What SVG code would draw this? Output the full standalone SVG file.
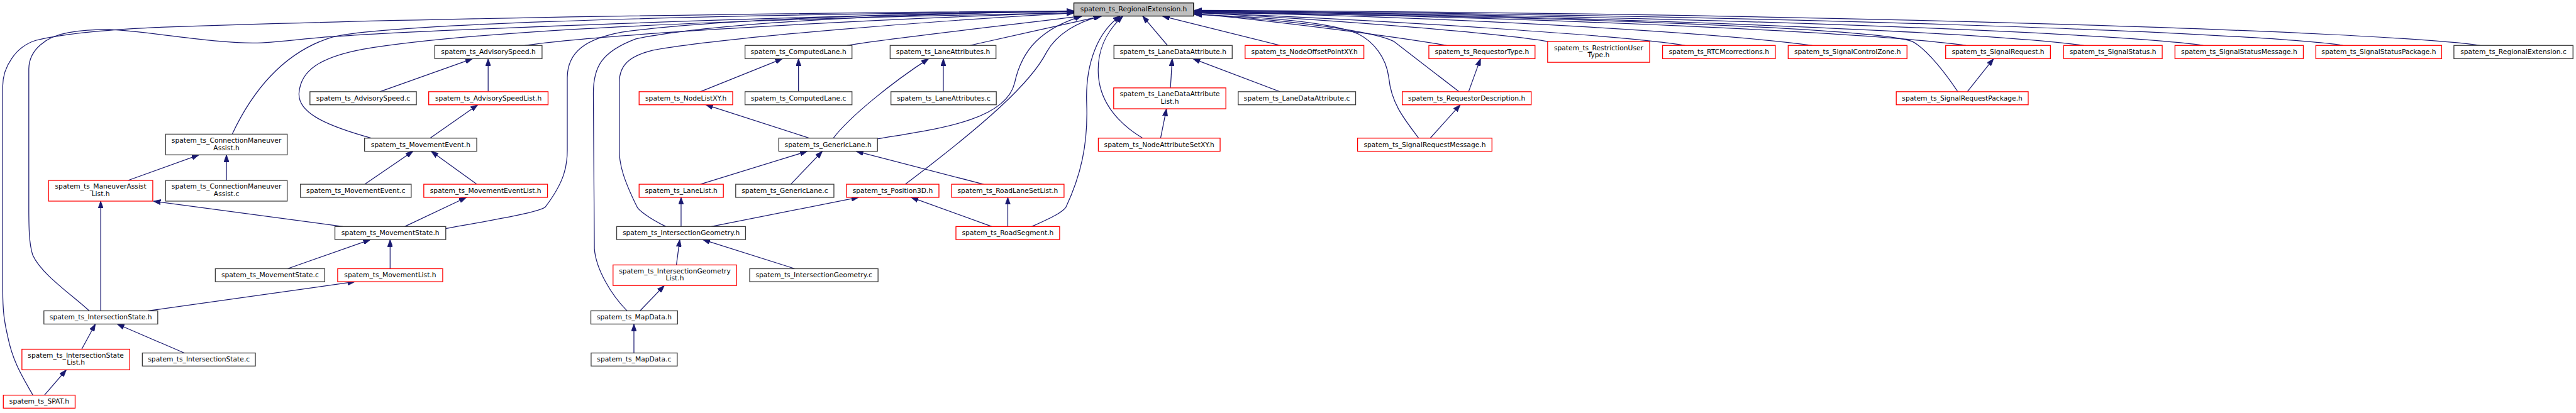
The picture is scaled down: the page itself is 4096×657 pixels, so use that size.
<svg xmlns="http://www.w3.org/2000/svg" width="4096" height="657" viewBox="0 0 4096 657">
<style>
.nd rect{fill:#fff;stroke:#3c3c3c;stroke-width:1.6}
.nd.r rect{stroke:#ff0000}
.nd.g rect{fill:#bfbfbf;stroke:#000}
.nd text{font-family:"DejaVu Sans","Liberation Sans",Arial,sans-serif;font-size:13px;fill:#000;text-anchor:middle}
.ed path{fill:none;stroke:#191970;stroke-width:1.5;marker-end:url(#ah)}
</style>
<defs>
<marker id="ah" markerUnits="userSpaceOnUse" viewBox="0 0 14 10" markerWidth="14" markerHeight="10" refX="14" refY="5" orient="auto">
<path d="M0,0 L14,5 L0,10 z" fill="#191970" stroke="#191970" stroke-width="1"/>
</marker>
</defs>
<rect width="4096" height="657" fill="#fff"/>
<g transform="scale(0.82398)">
<g id="edges" class="ed">
<path d="M942,177 L942,113.3"/>
<path d="M733,177 L912,113.3"/>
<path d="M830,266.7 L922,202.3"/>
<path d="M704,355.7 L797,292"/>
<path d="M920,355.7 L832,292"/>
<path d="M247,348.3 L384,299"/>
<path d="M437,348.3 L437,299"/>
<path d="M661.6,437.4 L296,388.5"/>
<path d="M781,437.4 L900,381"/>
<path d="M194.3,600.1 L194.3,388.3"/>
<path d="M554.7,518.8 L715,462.5"/>
<path d="M752.8,518.8 L752.8,462.5"/>
<path d="M285.8,600.1 L685,543.9"/>
<path d="M157.7,674.2 L184,625.6"/>
<path d="M355.7,681.5 L226,625.6"/>
<path d="M85.7,762.9 L128,713.9"/>
<path d="M1351.4,177 L1510,113.3"/>
<path d="M1540.9,177 L1540.9,113.3"/>
<path d="M1562,266.7 L1362,202.3"/>
<path d="M1351.4,355.7 L1558,292"/>
<path d="M1526,355.7 L1587,292"/>
<path d="M1898,355.7 L1652,292"/>
<path d="M1608,266.7 C1640,225 1720,160 1792,113.3"/>
<path d="M1820.4,177 L1820.4,113.3"/>
<path d="M1314.3,437.4 L1314.3,381"/>
<path d="M1372.6,437.4 L1657,381"/>
<path d="M1914,437.4 L1758,381"/>
<path d="M1944.8,437.4 L1944.8,381"/>
<path d="M1305.3,511.5 L1311.7,462.5"/>
<path d="M1534,518.8 L1356,462.5"/>
<path d="M1235,600.1 L1282,551.2"/>
<path d="M1223.3,681.5 L1223.3,625.6"/>
<path d="M2258.7,169.7 L2262,113.3"/>
<path d="M2469.9,177 L2302,113.3"/>
<path d="M2239.6,266.7 L2251,210"/>
<path d="M2834,177 L2857,113.3"/>
<path d="M2760,266.7 L2818,202.3"/>
<path d="M3796.4,177 L3847,113.3"/>
<path d="M1634.6,87.7 C1700,76 1950,48 2086,31"/>
<path d="M1871.7,87.7 C1950,70 2050,48 2126,31"/>
<path d="M1693.3,268 C1800,250 1940,235 1958,160 C1972,95 2010,55 2088,31"/>
<path d="M1747,355.7 C1900,240 1990,160 2020,100 C2040,65 2080,42 2124,31"/>
<path d="M1990.8,437.4 C2030,420 2050,410 2057,400 C2085,340 2100,280 2097,200 C2094,120 2120,60 2162,31"/>
<path d="M2205,266.7 C2160,240 2125,200 2120,150 C2115,100 2135,60 2167,31"/>
<path d="M2252.9,87.7 L2205,31"/>
<path d="M2469.9,87.7 L2243,31"/>
<path d="M1012.6,87.7 C1150,68 1600,40 2072,24"/>
<path d="M448,259 C490,170 550,100 640,72 C720,50 1200,30 2072,22"/>
<path d="M717,266.7 C620,240 575,215 577,180 C580,135 620,110 700,95 C850,70 1200,40 2072,25"/>
<path d="M860.2,441.3 C950,425 1040,410 1052,400 C1090,350 1094.7,320 1094.7,290 L1094.7,150 C1095,100 1130,75 1200,62 C1400,35 1800,25 2072,22"/>
<path d="M1210,600 C1180,570 1150,520 1147,480 L1145,180 C1145,130 1160,100 1227,75 C1400,40 1800,25 2072,22"/>
<path d="M1285,437.4 C1250,420 1232,405 1229.6,400 C1205,350 1195,320 1195,290 L1195,160 C1195,125 1215,108 1260,97 C1400,72 1800,40 2072,25"/>
<path d="M172,600 C140,570 80,530 63,492 C56,470 55.6,440 55.6,400 L55.6,133 C56,95 90,70 132,63 C160,58 190,57 211,57 C300,62 420,85 497,83 C560,80 600,72 656,70 C750,62 1500,30 2072,22"/>
<path d="M63.5,763 C45,730 25,700 15,650 C8,620 5.3,600 5.3,560 L5.3,166 C5.3,130 30,90 69,78 C120,65 200,58 300,53 C800,35 1500,25 2072,21"/>
<path d="M2791.7,87.7 C2700,72 2500,45 2305,26"/>
<path d="M2987.6,80.3 C2900,65 2600,40 2305,24"/>
<path d="M3252,87.7 C3150,70 2700,40 2305,24"/>
<path d="M3497.3,87.7 C3350,68 2900,35 2305,23"/>
<path d="M3793.8,87.7 C3650,68 3100,35 2305,23"/>
<path d="M4021.4,87.7 C3850,65 3200,32 2305,22"/>
<path d="M4252,87.7 C4100,65 3300,30 2305,22"/>
<path d="M4521.8,87.7 C4350,62 3400,28 2305,21"/>
<path d="M4786.2,87.7 C4600,60 3500,25 2305,20"/>
<path d="M2737.7,266.7 C2710,230 2685,200 2680,150 C2675,110 2650,80 2620,65 C2560,40 2420,32 2305,28"/>
<path d="M2815.5,177 L2690,80 C2650,60 2500,40 2305,27"/>
<path d="M3778,177 C3760,150 3720,95 3690,80 C3620,55 3000,30 2305,25"/>
</g>
<g id="n_RE" class="nd g"><rect x="2072.3" y="5.7" width="230.9" height="25.3"/><text x="2187.7" y="22.4">spatem_ts_RegionalExtension.h</text></g>
<g id="n_AdvisorySpeed_h" class="nd"><rect x="839" y="87.7" width="207" height="25.6"/><text x="942.5" y="104.6">spatem_ts_AdvisorySpeed.h</text></g>
<g id="n_ComputedLane_h" class="nd"><rect x="1437.7" y="87.7" width="206.4" height="25.6"/><text x="1540.9" y="104.6">spatem_ts_ComputedLane.h</text></g>
<g id="n_LaneAttributes_h" class="nd"><rect x="1717.7" y="87.7" width="204.3" height="25.6"/><text x="1819.9" y="104.6">spatem_ts_LaneAttributes.h</text></g>
<g id="n_LaneDataAttribute_h" class="nd"><rect x="2149.6" y="87.7" width="228.2" height="25.6"/><text x="2263.7" y="104.6">spatem_ts_LaneDataAttribute.h</text></g>
<g id="n_NodeOffsetPointXY_h" class="nd r"><rect x="2402.7" y="87.7" width="229.2" height="25.6"/><text x="2517.3" y="104.6">spatem_ts_NodeOffsetPointXY.h</text></g>
<g id="n_RequestorType_h" class="nd r"><rect x="2757.3" y="87.7" width="204.9" height="25.6"/><text x="2859.8" y="104.6">spatem_ts_RequestorType.h</text></g>
<g id="n_RestrictionUserType_h" class="nd r"><rect x="2986.5" y="80.3" width="196.9" height="40"/><text x="3085" y="96.5">spatem_ts_RestrictionUser</text><text x="3085" y="110.8">Type.h</text></g>
<g id="n_RTCMcorrections_h" class="nd r"><rect x="3208.3" y="87.7" width="217.6" height="25.6"/><text x="3317.1" y="104.6">spatem_ts_RTCMcorrections.h</text></g>
<g id="n_SignalControlZone_h" class="nd r"><rect x="3450.7" y="87.7" width="229.3" height="25.6"/><text x="3565.4" y="104.6">spatem_ts_SignalControlZone.h</text></g>
<g id="n_SignalRequest_h" class="nd r"><rect x="3754.6" y="87.7" width="202.2" height="25.6"/><text x="3855.7" y="104.6">spatem_ts_SignalRequest.h</text></g>
<g id="n_SignalStatus_h" class="nd r"><rect x="3982.2" y="87.7" width="190.3" height="25.6"/><text x="4077.4" y="104.6">spatem_ts_SignalStatus.h</text></g>
<g id="n_SignalStatusMessage_h" class="nd r"><rect x="4197.1" y="87.7" width="247.7" height="25.6"/><text x="4321" y="104.6">spatem_ts_SignalStatusMessage.h</text></g>
<g id="n_SignalStatusPackage_h" class="nd r"><rect x="4468.9" y="87.7" width="242.9" height="25.6"/><text x="4590.4" y="104.6">spatem_ts_SignalStatusPackage.h</text></g>
<g id="n_RegionalExtension_c" class="nd"><rect x="4735.4" y="87.7" width="229.8" height="25.6"/><text x="4850.3" y="104.6">spatem_ts_RegionalExtension.c</text></g>
<g id="n_AdvisorySpeed_c" class="nd"><rect x="598.1" y="177" width="205.4" height="25.3"/><text x="700.8" y="193.8">spatem_ts_AdvisorySpeed.c</text></g>
<g id="n_AdvisorySpeedList_h" class="nd r"><rect x="827.3" y="177" width="230.3" height="25.3"/><text x="942.5" y="193.8">spatem_ts_AdvisorySpeedList.h</text></g>
<g id="n_NodeListXY_h" class="nd r"><rect x="1233.3" y="177" width="180.6" height="25.3"/><text x="1323.6" y="193.8">spatem_ts_NodeListXY.h</text></g>
<g id="n_ComputedLane_c" class="nd"><rect x="1437.7" y="177" width="206.4" height="25.3"/><text x="1540.9" y="193.8">spatem_ts_ComputedLane.c</text></g>
<g id="n_LaneAttributes_c" class="nd"><rect x="1719.3" y="177" width="203.3" height="25.3"/><text x="1821" y="193.8">spatem_ts_LaneAttributes.c</text></g>
<g id="n_LaneDataAttributeList_h" class="nd r"><rect x="2149.1" y="169.7" width="216.5" height="40.3"/><text x="2257.4" y="186">spatem_ts_LaneDataAttribute</text><text x="2257.4" y="200.3">List.h</text></g>
<g id="n_LaneDataAttribute_c" class="nd"><rect x="2389.4" y="177" width="226.6" height="25.3"/><text x="2502.7" y="193.8">spatem_ts_LaneDataAttribute.c</text></g>
<g id="n_RequestorDescription_h" class="nd r"><rect x="2706" y="177" width="248.8" height="25.3"/><text x="2830.4" y="193.8">spatem_ts_RequestorDescription.h</text></g>
<g id="n_SignalRequestPackage_h" class="nd r"><rect x="3659.3" y="177" width="254.6" height="25.3"/><text x="3786.6" y="193.8">spatem_ts_SignalRequestPackage.h</text></g>
<g id="n_ConnectionManeuverAssist_h" class="nd"><rect x="319.7" y="259" width="234.5" height="40"/><text x="437" y="275.2">spatem_ts_ConnectionManeuver</text><text x="437" y="289.5">Assist.h</text></g>
<g id="n_MovementEvent_h" class="nd"><rect x="703.5" y="266.7" width="216.5" height="25.3"/><text x="811.8" y="283.5">spatem_ts_MovementEvent.h</text></g>
<g id="n_GenericLane_h" class="nd"><rect x="1502.8" y="266.7" width="190.5" height="25.3"/><text x="1598" y="283.5">spatem_ts_GenericLane.h</text></g>
<g id="n_NodeAttributeSetXY_h" class="nd r"><rect x="2119.5" y="266.7" width="235" height="25.3"/><text x="2237" y="283.5">spatem_ts_NodeAttributeSetXY.h</text></g>
<g id="n_SignalRequestMessage_h" class="nd r"><rect x="2619.7" y="266.7" width="259.4" height="25.3"/><text x="2749.4" y="283.5">spatem_ts_SignalRequestMessage.h</text></g>
<g id="n_ManeuverAssistList_h" class="nd r"><rect x="93.7" y="348.3" width="201.1" height="40"/><text x="194.3" y="364.5">spatem_ts_ManeuverAssist</text><text x="194.3" y="378.8">List.h</text></g>
<g id="n_ConnectionManeuverAssist_c" class="nd"><rect x="319.7" y="348.3" width="234.5" height="40"/><text x="437" y="364.5">spatem_ts_ConnectionManeuver</text><text x="437" y="378.8">Assist.c</text></g>
<g id="n_MovementEvent_c" class="nd"><rect x="579.6" y="355.7" width="213.9" height="25.3"/><text x="686.6" y="372.5">spatem_ts_MovementEvent.c</text></g>
<g id="n_MovementEventList_h" class="nd r"><rect x="817.8" y="355.7" width="238.7" height="25.3"/><text x="937.2" y="372.5">spatem_ts_MovementEventList.h</text></g>
<g id="n_LaneList_h" class="nd r"><rect x="1233.3" y="355.7" width="162.6" height="25.3"/><text x="1314.6" y="372.5">spatem_ts_LaneList.h</text></g>
<g id="n_GenericLane_c" class="nd"><rect x="1419.7" y="355.7" width="189.5" height="25.3"/><text x="1514.5" y="372.5">spatem_ts_GenericLane.c</text></g>
<g id="n_Position3D_h" class="nd r"><rect x="1633.5" y="355.7" width="178.4" height="25.3"/><text x="1722.7" y="372.5">spatem_ts_Position3D.h</text></g>
<g id="n_RoadLaneSetList_h" class="nd r"><rect x="1836.3" y="355.7" width="217" height="25.3"/><text x="1944.8" y="372.5">spatem_ts_RoadLaneSetList.h</text></g>
<g id="n_MovementState_h" class="nd"><rect x="646.3" y="437.4" width="213.9" height="25.1"/><text x="753.3" y="454.1">spatem_ts_MovementState.h</text></g>
<g id="n_IntersectionGeometry_h" class="nd"><rect x="1190" y="437.4" width="248.7" height="25.1"/><text x="1314.4" y="454.1">spatem_ts_IntersectionGeometry.h</text></g>
<g id="n_RoadSegment_h" class="nd r"><rect x="1844.7" y="437.4" width="200.1" height="25.1"/><text x="1944.8" y="454.1">spatem_ts_RoadSegment.h</text></g>
<g id="n_MovementState_c" class="nd"><rect x="415.5" y="518.8" width="211.2" height="25.1"/><text x="521.1" y="535.5">spatem_ts_MovementState.c</text></g>
<g id="n_MovementList_h" class="nd r"><rect x="651.6" y="518.8" width="202.7" height="25.1"/><text x="753" y="535.5">spatem_ts_MovementList.h</text></g>
<g id="n_IntersectionGeometryList_h" class="nd r"><rect x="1183" y="511.5" width="238.3" height="39.7"/><text x="1302.2" y="527.5">spatem_ts_IntersectionGeometry</text><text x="1302.2" y="541.8">List.h</text></g>
<g id="n_IntersectionGeometry_c" class="nd"><rect x="1446.7" y="518.8" width="247.7" height="25.1"/><text x="1570.6" y="535.5">spatem_ts_IntersectionGeometry.c</text></g>
<g id="n_IntersectionState_h" class="nd"><rect x="84.7" y="600.1" width="219.7" height="25.5"/><text x="194.5" y="616.9">spatem_ts_IntersectionState.h</text></g>
<g id="n_MapData_h" class="nd"><rect x="1140.2" y="600.1" width="167.3" height="25.5"/><text x="1223.9" y="616.9">spatem_ts_MapData.h</text></g>
<g id="n_IntersectionStateList_h" class="nd r"><rect x="42.3" y="674.2" width="208.1" height="39.7"/><text x="146.4" y="690.2">spatem_ts_IntersectionState</text><text x="146.4" y="704.5">List.h</text></g>
<g id="n_IntersectionState_c" class="nd"><rect x="274.7" y="681.5" width="218.1" height="25.2"/><text x="383.8" y="698.2">spatem_ts_IntersectionState.c</text></g>
<g id="n_MapData_c" class="nd"><rect x="1140.7" y="681.5" width="166.2" height="25.2"/><text x="1223.8" y="698.2">spatem_ts_MapData.c</text></g>
<g id="n_SPAT_h" class="nd r"><rect x="6.4" y="762.9" width="138.6" height="25.1"/><text x="75.7" y="779.6">spatem_ts_SPAT.h</text></g>
</g>
</svg>
